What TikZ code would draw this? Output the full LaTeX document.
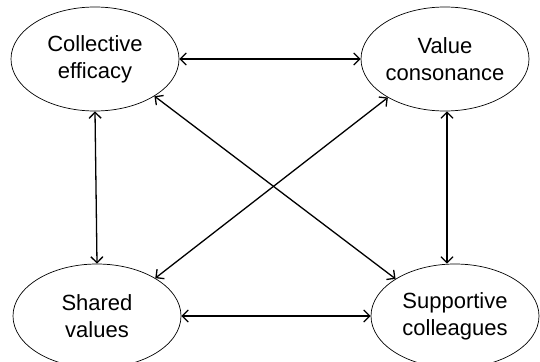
\documentclass[tikz,border=0pt]{standalone}
\usepackage{fontspec}
\setmainfont{Liberation Sans}
\usetikzlibrary{shapes.geometric,arrows.meta}
\begin{document}
\begin{tikzpicture}[x=1pt,y=-1pt,
  concept/.style={ellipse,draw,line width=0.7pt,minimum width=168pt,minimum height=104pt,inner sep=0pt,align=center,font=\fontsize{22}{27}\selectfont},
  link/.style={line width=1.3pt,{Straight Barb[length=6pt,width=12pt]}-{Straight Barb[length=6pt,width=12pt]}}]
\clip (0,0) rectangle (540,361);
\useasboundingbox (0,0) rectangle (540,361);
\node[concept] (ce) at (95,59) {Collective\\efficacy};
\node[concept] (vc) at (445,59) {Value\\consonance};
\node[concept] (sv) at (97,316) {Shared\\values};
\node[concept] (sc) at (455,316) {Supportive\\colleagues};
\draw[link] (ce) -- (vc);
\draw[link] (sv) -- (sc);
\draw[link] (ce.south) -- (sv.north);
\draw[link] ([xshift=2pt]vc.south) -- ([xshift=-8pt]sc.north);
\draw[link] (ce.-32) -- (sc.148);
\draw[link] (vc.-146) -- (sv.33);
\end{tikzpicture}
\end{document}
